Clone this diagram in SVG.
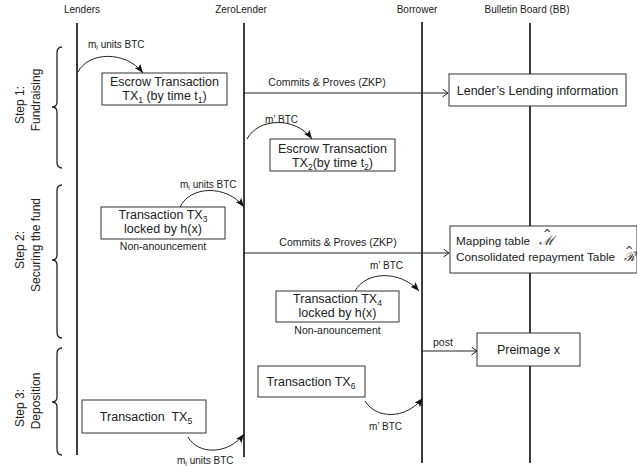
<svg xmlns="http://www.w3.org/2000/svg" width="637" height="466" viewBox="0 0 637 466">
<style>
text{font-family:"Liberation Sans",Arial,sans-serif;fill:#222}
.hdr{font-size:10px;text-anchor:middle}
.life{stroke:#1a1a1a;stroke-width:1.7;fill:none}
.box{fill:#fff;stroke:#333;stroke-width:1}
.bt{font-size:12.5px;text-anchor:middle}
.sm{font-size:10px}
.na{font-size:10.5px;text-anchor:middle}
.step{font-size:12px;text-anchor:middle}
.arc{fill:none;stroke:#222;stroke-width:1}
.ln{fill:none;stroke:#222;stroke-width:1}
.brace{fill:none;stroke:#222;stroke-width:1.3}
.hat{font-family:"DejaVu Sans",sans-serif;font-size:10px;font-style:normal}
.sym{font-family:"DejaVu Serif",serif;font-style:italic;font-size:13px}
</style>
<defs>
<marker id="fa" markerUnits="userSpaceOnUse" markerWidth="10" markerHeight="8" refX="9" refY="3.5" orient="auto">
<path d="M0,0 L9,3.5 L0,7 L2,3.5 z" fill="#111"/>
</marker>
<marker id="oa" markerUnits="userSpaceOnUse" markerWidth="8" markerHeight="10" refX="6" refY="4.5" orient="auto">
<path d="M0.5,0.5 L6,4.5 L0.5,8.5" fill="none" stroke="#222" stroke-width="1"/>
</marker>
</defs>
<g id="headers">
<text class="hdr" x="82" y="13">Lenders</text>
<text class="hdr" x="241" y="13">ZeroLender</text>
<text class="hdr" x="417" y="13">Borrower</text>
<text class="hdr" x="527" y="13">Bulletin Board (BB)</text>
</g>
<g id="lifelines">
<line class="life" x1="77" y1="23" x2="77" y2="455"/>
<line class="life" x1="244" y1="23" x2="244" y2="457"/>
<line class="life" x1="422" y1="22" x2="422" y2="463"/>
<line class="life" x1="530" y1="23" x2="530" y2="463"/>
</g>
<g id="steps">
<path class="brace" d="M62,47 Q57,47 57,53 L57,102 Q57,107 52,107 Q57,107 57,112 L57,162 Q57,168 62,168"/>
<text class="step" transform="translate(24,105) rotate(-90)">Step 1:</text>
<text class="step" transform="translate(40,100) rotate(-90)">Fundraising</text>
<path class="brace" d="M62,185 Q57,185 57,191 L57,255 Q57,260 52,260 Q57,260 57,265 L57,332 Q57,338 62,338"/>
<text class="step" transform="translate(24,250) rotate(-90)">Step 2:</text>
<text class="step" transform="translate(40,245) rotate(-90)">Securing the fund</text>
<path class="brace" d="M62,348 Q57,348 57,354 L57,397 Q57,402 52,402 Q57,402 57,407 L57,449 Q57,455 62,455"/>
<text class="step" transform="translate(24,408) rotate(-90)">Step 3:</text>
<text class="step" transform="translate(40,401) rotate(-90)">Deposition</text>
</g>
<g id="tx1">
<rect class="box" x="102" y="73" width="125" height="32"/>
<text class="bt" x="164.5" y="86">Escrow Transaction</text>
<text class="bt" x="164.5" y="100">TX<tspan font-size="8.5" dy="2.5">1</tspan><tspan dy="-2.5"> (by time t</tspan><tspan font-size="8.5" dy="2.5">1</tspan><tspan dy="-2.5">)</tspan></text>
</g>
<g id="lending-info">
<rect class="box" x="449" y="74" width="177" height="32"/>
<text class="bt" x="537.5" y="95">Lender’s Lending information</text>
</g>
<g id="tx2">
<rect class="box" x="270" y="139" width="125" height="32"/>
<text class="bt" x="332.5" y="153">Escrow Transaction</text>
<text class="bt" x="332.5" y="167">TX<tspan font-size="8.5" dy="2.5">2</tspan><tspan dy="-2.5">(by time t</tspan><tspan font-size="8.5" dy="2.5">2</tspan><tspan dy="-2.5">)</tspan></text>
</g>
<g id="tx3">
<rect class="box" x="101" y="207" width="124" height="32"/>
<text class="bt" x="163" y="219">Transaction TX<tspan font-size="8.5" dy="2.5">3</tspan></text>
<text class="bt" x="163" y="233">locked by h(x)</text>
<text class="na" x="163" y="250">Non-anouncement</text>
</g>
<g id="mapping">
<rect class="box" x="450" y="226" width="187" height="47"/>
<text x="456" y="245" font-size="11.8">Mapping table <tspan class="sym" x="539">ℳ</tspan><tspan class="hat" x="543" dy="-8.5">^</tspan></text>
<text x="456" y="261" font-size="11.8">Consolidated repayment Table <tspan class="sym" x="624">ℛ</tspan><tspan class="hat" x="625" dy="-7">^</tspan></text>
</g>
<g id="tx4">
<rect class="box" x="276" y="291" width="123" height="31"/>
<text class="bt" x="337.5" y="303">Transaction TX<tspan font-size="8.5" dy="2.5">4</tspan></text>
<text class="bt" x="337.5" y="317">locked by h(x)</text>
<text class="na" x="337.5" y="334">Non-anouncement</text>
</g>
<g id="preimage">
<rect class="box" x="477" y="333" width="103" height="33"/>
<text class="bt" x="528.5" y="354" font-size="11.5">Preimage x</text>
</g>
<g id="tx6">
<rect class="box" x="258" y="366" width="107" height="31"/>
<text class="bt" x="311" y="386">Transaction TX<tspan font-size="8.5" dy="2.5">6</tspan></text>
</g>
<g id="tx5">
<rect class="box" x="82" y="400" width="124" height="33"/>
<text class="bt" x="146" y="421" style="white-space:pre">Transaction  TX<tspan font-size="8.5" dy="2.5">5</tspan></text>
</g>
<g id="connectors">
<path class="arc" d="M78,72 C88,52 125,50 143,73" marker-end="url(#fa)"/>
<text class="sm" x="88" y="48">m<tspan font-size="7" dy="2">i</tspan><tspan dy="-2"> units BTC</tspan></text>
<line class="ln" x1="244" y1="93" x2="448" y2="93" marker-end="url(#oa)"/>
<text x="327" y="86" font-size="10.5" text-anchor="middle">Commits &amp; Proves (ZKP)</text>
<path class="arc" d="M247,139 C258,118 295,116 312,139" marker-end="url(#fa)"/>
<text class="sm" x="265" y="123">m’ BTC</text>
<path class="arc" d="M180,207 C190,186 226,184 244,207" marker-end="url(#fa)"/>
<text class="sm" x="180" y="188">m<tspan font-size="7" dy="2">i</tspan><tspan dy="-2"> units BTC</tspan></text>
<line class="ln" x1="244" y1="253" x2="449" y2="253" marker-end="url(#oa)"/>
<text x="338" y="246" font-size="10.5" text-anchor="middle">Commits &amp; Proves (ZKP)</text>
<path class="arc" d="M355,291 C366,271 400,270 419,291" marker-end="url(#fa)"/>
<text class="sm" x="370" y="269">m’ BTC</text>
<line class="ln" x1="422" y1="351" x2="477" y2="351" marker-end="url(#oa)"/>
<text x="433" y="346" font-size="10.5">post</text>
<path class="arc" d="M365,401 C376,419 405,420 423,398" marker-end="url(#fa)"/>
<text class="sm" x="369" y="430">m’ BTC</text>
<path class="arc" d="M188,437 C198,455 228,455 244,434" marker-end="url(#fa)"/>
<text class="sm" x="177" y="464">m<tspan font-size="7" dy="2">i</tspan><tspan dy="-2"> units BTC</tspan></text>
</g>
</svg>
